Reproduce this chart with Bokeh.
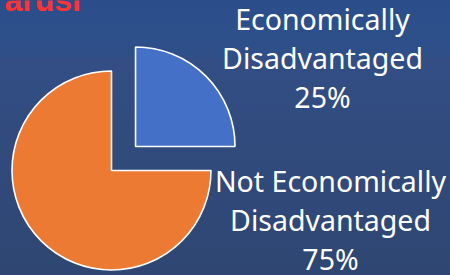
import numpy as np
from bokeh.plotting import figure
from bokeh.models import ColumnDataSource
from bokeh.core.properties import value
from bokeh.embed import file_html
from bokeh.resources import INLINE

# ---- data ----
categories = ["Economically\nDisadvantaged", "Not Economically\nDisadvantaged"]
values = [25, 75]
colors = ["#4570c8", "#ed7a33"]
explode = [34, 0]          # pixel offset of each slice along its mid-angle
title_fragment = "arusi"

W, H = 450, 275
p = figure(width=W, height=H, x_range=(0, W), y_range=(0, H),
           output_backend="svg", toolbar_location=None, min_border=0,
           background_fill_alpha=0, border_fill_alpha=0, outline_line_color=None)
p.axis.visible = False
p.grid.visible = False

cx, cy, r = 111, 105, 99.5
total = float(sum(values))
fr = np.array(values) / total
cum = np.concatenate([[0], np.cumsum(fr)])
# clockwise from 12 o'clock
end_ang = np.pi / 2 - cum[:-1] * 2 * np.pi
start_ang = np.pi / 2 - cum[1:] * 2 * np.pi
mid = (start_ang + end_ang) / 2
xs = cx + np.array(explode) * np.cos(mid)
ys = cy + np.array(explode) * np.sin(mid)

src = ColumnDataSource(dict(x=xs, y=ys, start=start_ang, end=end_ang, color=colors))
p.wedge(x="x", y="y", radius=r, start_angle="start", end_angle="end",
        fill_color="color", line_color="white", line_width=1.6, source=src)

# labels
label_pos = [(322, H - 18), (330, H - 180)]
line_gap = 39
lx, ly, lt = [], [], []
for cat, v, (px, py) in zip(categories, values, label_pos):
    lines = cat.split("\n") + [f"{v}%"]
    for i, t in enumerate(lines):
        lx.append(px)
        ly.append(py - i * line_gap)
        lt.append(t)
p.text(x=lx, y=ly, text=lt, text_align="center", text_baseline="alphabetic",
       text_color="#ffffff", text_font=value("Noto Sans"), text_font_size="28.5px")

# cut-off title fragment at top-left
p.text(x=[4], y=[H + 1], text=[title_fragment], text_align="left",
       text_baseline="alphabetic", text_color="#ff3333",
       text_font=value("Liberation Sans"), text_font_style="bold",
       text_font_size="32px")

html = file_html(p, INLINE)
style = ("<style>html,body{margin:0;padding:0;overflow:hidden;}"
         "body{background:linear-gradient(to bottom,#2b4e8b 0px,#2e4f88 57px,"
         "#324e84 58px,#2f4672 275px);}</style>")
html = html.replace("</head>", style + "</head>", 1)
open("out.html", "w").write(html)
